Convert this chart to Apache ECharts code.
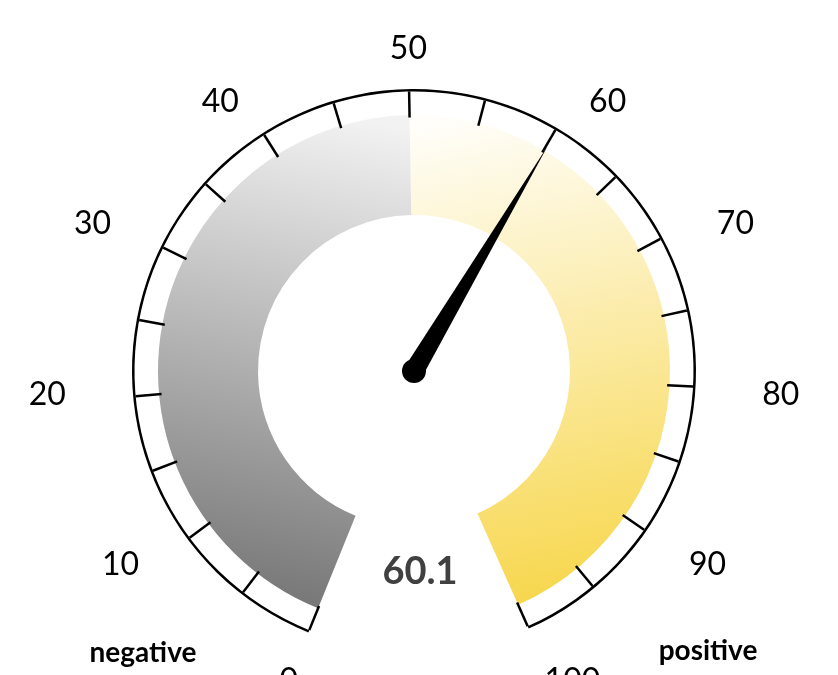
<!DOCTYPE html>
<html>
<head>
<meta charset="utf-8">
<title>gauge</title>
<script src="https://cdn.jsdelivr.net/npm/echarts@6/dist/echarts.min.js"></script>
<style>
html,body{margin:0;padding:0;background:#fff;}
#chart{width:838px;height:675px;}
</style>
</head>
<body>
<div id="chart"></div>
<script>
// 数据
var gaugeValue = 60.1;
var scaleMin = 0;
var scaleMax = 100;
// 刻度文字分组（原图的文字排在椭圆上，每组一圈）
var labelsTop = [50];
var labelsUpper = [40, 60];
var labelsMid = [30, 70];
var labelsSide = [20, 80];
var labelsLower = [10, 90];
var labelsStart = [0];
var labelsEnd = [100];
var sideNames = ['negative', 'positive'];

var center = [414, 371];
var startAngle = 248;
var endAngle = -66;
var midAngle = (startAngle + endAngle) / 2;
var font = 'Lato, "Open Sans", sans-serif';

/*
 * 只画刻度文字的仪表盘
 * stretch: 以 50 为中轴把角度拉伸, turn: 整体转动的角度
 */
function labelRing(values, radius, stretch, turn){
    return {
        type:'gauge',
        center:center,
        radius:radius,
        startAngle:midAngle + turn + stretch * (startAngle - midAngle),
        endAngle:midAngle + turn + stretch * (endAngle - midAngle),
        min:scaleMin,
        max:scaleMax,
        splitNumber:10,
        axisLine:{show:false, lineStyle:{width:0}},
        splitLine:{show:false, length:0, distance:0},
        axisTick:{show:false},
        pointer:{show:false},
        anchor:{show:false},
        title:{show:false},
        detail:{show:false},
        axisLabel:{
            distance:0,
            color:'#000',
            fontSize:32,
            fontFamily:font,
            padding:[-16, -18, -16, -18],
            formatter:function(v){
                return values.indexOf(Math.round(v)) > -1 ? String(Math.round(v)) : '';
            }
        },
        data:[{value:gaugeValue}]
    };
}

var grayBand = {
    type:'linear', x:0.7, y:0, x2:0.3, y2:1,
    colorStops:[{offset:0, color:'#f2f2f2'}, {offset:1, color:'#737373'}]
};
var yellowBand = {
    type:'linear', x:0.2, y:0, x2:0.6, y2:1,
    colorStops:[{offset:0, color:'#fffefa'}, {offset:1, color:'#f7d64a'}]
};

var myChart = echarts.init(document.getElementById('chart'));
myChart.setOption({
    animation:false,
    series:[
        // 色带
        {
            type:'gauge',
            center:center,
            radius:256,
            startAngle:startAngle,
            endAngle:endAngle,
            min:scaleMin,
            max:scaleMax,
            axisLine:{lineStyle:{width:100, color:[[0.5, grayBand], [1, yellowBand]]}},
            splitLine:{show:false},
            axisTick:{show:false},
            axisLabel:{show:false},
            pointer:{show:false},
            anchor:{show:false},
            title:{show:false},
            detail:{show:false},
            data:[{value:gaugeValue}]
        },
        // 外圈、刻度线、指针
        {
            type:'gauge',
            center:center,
            radius:282,
            startAngle:startAngle,
            endAngle:endAngle,
            min:scaleMin,
            max:scaleMax,
            splitNumber:20,
            axisLine:{lineStyle:{width:2.5, color:[[1, '#000']]}},
            splitLine:{length:26, distance:0, lineStyle:{width:2.5, color:'#000'}},
            axisTick:{show:false},
            axisLabel:{show:false},
            pointer:{
                icon:'path://M0,100 L5,0 L10,100 Z',
                length:262,
                width:20,
                itemStyle:{color:'#000'}
            },
            anchor:{show:true, size:24, showAbove:true, itemStyle:{color:'#000'}},
            title:{show:false},
            detail:{
                offsetCenter:[6, 201],
                fontSize:38,
                fontWeight:'bold',
                fontFamily:font,
                color:'#404040',
                formatter:'{value}',
                valueAnimation:false
            },
            data:[{value:gaugeValue}]
        },
        labelRing(labelsTop, 322, 1, 0),
        labelRing(labelsUpper, 332, 1.14, -1),
        labelRing(labelsMid, 354, 1.042, -1),
        labelRing(labelsSide, 368, 0.994, -1),
        labelRing(labelsLower, 352, 0.982, -1),
        labelRing(labelsStart, 334, 1, 0),
        labelRing(labelsEnd, 352, 0.971, 0)
    ],
    graphic:[
        {
            type:'text', x:143, y:653,
            style:{text:sideNames[0], fontSize:28, fontWeight:'bold', fontFamily:font, fill:'#000',
                align:'center', verticalAlign:'middle', textAlign:'center', textVerticalAlign:'middle'}
        },
        {
            type:'text', x:708, y:651,
            style:{text:sideNames[1], fontSize:28, fontWeight:'bold', fontFamily:font, fill:'#000',
                align:'center', verticalAlign:'middle', textAlign:'center', textVerticalAlign:'middle'}
        }
    ]
});
</script>
</body>
</html>
